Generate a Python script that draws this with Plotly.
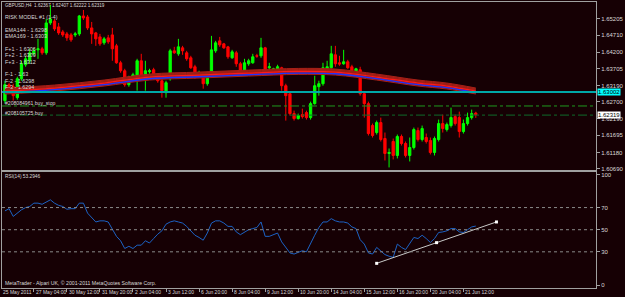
import plotly.graph_objects as go

# ---------------- data ----------------
bar_index = list(range(115))

open_p = [1.6274, 1.6322, 1.6316, 1.6283, 1.6340, 1.6382, 1.6394, 1.6415, 1.6427, 1.6430,
          1.6418, 1.6508, 1.6514, 1.6496, 1.6481, 1.6475, 1.6472, 1.6472, 1.6475, 1.6529,
          1.6526, 1.6493, 1.6478, 1.6466, 1.6448, 1.6463, 1.6472, 1.6439, 1.6388, 1.6364,
          1.6322, 1.6343, 1.6334, 1.6394, 1.6340, 1.6361, 1.6367, 1.6343, 1.6334, 1.6298,
          1.6340, 1.6424, 1.6415, 1.6433, 1.6418, 1.6403, 1.6376, 1.6355, 1.6352, 1.6325,
          1.6352, 1.6424, 1.6454, 1.6445, 1.6436, 1.6403, 1.6418, 1.6385, 1.6361, 1.6385,
          1.6388, 1.6409, 1.6409, 1.6433, 1.6373, 1.6361, 1.6367, 1.6373, 1.6319, 1.6295,
          1.6235, 1.6220, 1.6232, 1.6238, 1.6223, 1.6265, 1.6316, 1.6325, 1.6370, 1.6373,
          1.6412, 1.6388, 1.6385, 1.6391, 1.6376, 1.6361, 1.6367, 1.6295, 1.6265, 1.6199,
          1.6178, 1.6208, 1.6160, 1.6115, 1.6151, 1.6109, 1.6166, 1.6145, 1.6109, 1.6133,
          1.6184, 1.6157, 1.6163, 1.6154, 1.6118, 1.6157, 1.6205, 1.6187, 1.6199, 1.6226,
          1.6223, 1.6181, 1.6205, 1.6223, 1.62367]

high_p = [1.6334, 1.6328, 1.6325, 1.6346, 1.6394, 1.6409, 1.6430, 1.6433, 1.6460, 1.6436,
          1.6520, 1.6562, 1.6520, 1.6508, 1.6487, 1.6481, 1.6478, 1.6481, 1.6532, 1.6547,
          1.6532, 1.6511, 1.6481, 1.6475, 1.6466, 1.6472, 1.6493, 1.6445, 1.6394, 1.6370,
          1.6349, 1.6358, 1.6400, 1.6415, 1.6394, 1.6370, 1.6373, 1.6349, 1.6340, 1.6334,
          1.6430, 1.6436, 1.6460, 1.6439, 1.6424, 1.6409, 1.6382, 1.6364, 1.6358, 1.6361,
          1.6469, 1.6454, 1.6466, 1.6448, 1.6439, 1.6427, 1.6424, 1.6391, 1.6400, 1.6400,
          1.6415, 1.6415, 1.6463, 1.6436, 1.6388, 1.6373, 1.6382, 1.6376, 1.6325, 1.6301,
          1.6244, 1.6235, 1.6250, 1.6244, 1.6271, 1.6349, 1.6334, 1.6388, 1.6394, 1.6439,
          1.6439, 1.6409, 1.6427, 1.6397, 1.6382, 1.6373, 1.6376, 1.6301, 1.6271, 1.6205,
          1.6214, 1.6223, 1.6178, 1.6130, 1.6160, 1.6172, 1.6172, 1.6151, 1.6163, 1.6193,
          1.6193, 1.6199, 1.6175, 1.6163, 1.6166, 1.6217, 1.6232, 1.6208, 1.6253, 1.6232,
          1.6241, 1.6217, 1.6238, 1.6247, 1.62407]

low_p = [1.6265, 1.6304, 1.6274, 1.6277, 1.6334, 1.6376, 1.6385, 1.6409, 1.6400, 1.6412,
         1.6412, 1.6502, 1.6484, 1.6472, 1.6466, 1.6454, 1.6451, 1.6466, 1.6469, 1.6517,
         1.6487, 1.6445, 1.6439, 1.6439, 1.6442, 1.6445, 1.6394, 1.6385, 1.6358, 1.6316,
         1.6316, 1.6337, 1.6304, 1.6334, 1.6304, 1.6355, 1.6337, 1.6328, 1.6283, 1.6283,
         1.6334, 1.6415, 1.6409, 1.6412, 1.6394, 1.6370, 1.6340, 1.6349, 1.6310, 1.6319,
         1.6346, 1.6418, 1.6436, 1.6430, 1.6400, 1.6400, 1.6376, 1.6358, 1.6355, 1.6379,
         1.6385, 1.6403, 1.6403, 1.6358, 1.6358, 1.6358, 1.6364, 1.6304, 1.6214, 1.6229,
         1.6214, 1.6217, 1.6220, 1.6217, 1.6217, 1.6262, 1.6289, 1.6319, 1.6367, 1.6370,
         1.6376, 1.6379, 1.6382, 1.6370, 1.6361, 1.6358, 1.6289, 1.6223, 1.6169, 1.6163,
         1.6172, 1.6151, 1.6094, 1.6073, 1.6097, 1.6100, 1.6139, 1.6103, 1.6091, 1.6127,
         1.6151, 1.6151, 1.6145, 1.6112, 1.6109, 1.6151, 1.6178, 1.6181, 1.6193, 1.6199,
         1.6163, 1.6175, 1.6199, 1.6217, 1.62222]

close_p = [1.6322, 1.6310, 1.6289, 1.6340, 1.6385, 1.6400, 1.6418, 1.6424, 1.6430, 1.6418,
           1.6508, 1.6520, 1.6490, 1.6478, 1.6472, 1.6463, 1.6457, 1.6475, 1.6529, 1.6523,
           1.6493, 1.6475, 1.6460, 1.6445, 1.6460, 1.6451, 1.6430, 1.6388, 1.6364, 1.6322,
           1.6343, 1.6352, 1.6394, 1.6340, 1.6364, 1.6364, 1.6343, 1.6334, 1.6304, 1.6328,
           1.6424, 1.6418, 1.6436, 1.6424, 1.6400, 1.6373, 1.6349, 1.6358, 1.6325, 1.6355,
           1.6427, 1.6448, 1.6442, 1.6433, 1.6406, 1.6421, 1.6385, 1.6364, 1.6388, 1.6394,
           1.6406, 1.6408, 1.6433, 1.6364, 1.6376, 1.6370, 1.6376, 1.6319, 1.6289, 1.6235,
           1.6220, 1.6229, 1.6226, 1.6223, 1.6265, 1.6319, 1.6325, 1.6373, 1.6376, 1.6415,
           1.6385, 1.6384, 1.6391, 1.6373, 1.6364, 1.6370, 1.6295, 1.6265, 1.6175, 1.6169,
           1.6208, 1.6157, 1.6115, 1.6118, 1.6109, 1.6166, 1.6145, 1.6109, 1.6133, 1.6187,
           1.6157, 1.6190, 1.6151, 1.6118, 1.6160, 1.6205, 1.6190, 1.6202, 1.6223, 1.6205,
           1.6181, 1.6205, 1.6223, 1.6235, 1.62319]

# EMA band read at sample bars
ema_bars = [0, 12, 24, 35, 47, 59, 71, 80, 90, 100, 107, 114]
ema144 = [1.6298, 1.6307, 1.6322, 1.6340, 1.6346, 1.6352, 1.6357, 1.6355, 1.6340, 1.6322, 1.6313, 1.6298]
ema169_offset = 0.0005
band_offsets = [-0.0004, 0.0, 0.0002, 0.0008, 0.0011, 0.0014]

rsi = [67, 69, 62, 65, 68, 70, 71, 74, 74, 73,
       75, 77, 74, 72, 71, 68.5, 69, 69, 74, 74,
       65, 61, 57, 58, 58, 57, 51, 44, 40, 33,
       35, 33, 36, 36, 40, 38, 42, 46, 49, 55,
       57, 58, 57, 56, 53, 49, 45, 43, 40.5, 47,
       56, 58, 58, 56, 53, 53, 48, 45.5, 47.5, 50,
       51, 52, 57, 44, 44, 45.5, 47, 39, 34.5, 29,
       28, 29.5, 31, 30, 38, 45, 52, 57, 57, 60,
       58, 57, 57, 56, 52.5, 51, 41, 37, 29, 28,
       34, 31, 27.5, 26, 25, 37, 34, 32, 38, 43,
       42, 45, 42, 38.5, 42, 47.5, 48, 49, 51, 51,
       48, 47.5, 50, 52.5, 53.2946]

trend_bars = [90, 104.5, 119]
trend_rsi = [19.6, 38.3, 57.0]

cyan_level = 1.6300
buy_stop_level = 1.6258
buy_level = 1.62305
current_price = 1.62319

price_ticks = [1.65205, 1.64710, 1.64200, 1.63705, 1.63190, 1.62700, 1.62190, 1.61695, 1.61180, 1.60690]
price_tick_text = ["1.65205", "1.64710", "1.64200", "1.63705", "1.63190", "1.62700", "1.62190",
                   "1.61695", "1.61180", "1.60690"]
rsi_ticks = [0, 30, 50, 70, 100]
rsi_levels = [30, 50, 70]

time_tick_bars = [-1, 7, 15, 23, 31, 39, 47, 55, 63, 71, 79, 87, 95, 103, 111]
time_labels = ["25 May 2011", "27 May 04:00", "30 May 12:00", "31 May 20:00", "2 Jun 04:00",
               "3 Jun 12:00", "6 Jun 20:00", "8 Jun 04:00", "9 Jun 12:00", "10 Jun 20:00",
               "14 Jun 04:00", "15 Jun 12:00", "16 Jun 20:00", "20 Jun 04:00", "21 Jun 12:00"]

info_lines = [
    ("GBPUSD,H4  1.62367 1.62407 1.62222 1.62319", 5, 4.6),
    ("RISK MODEL #1 (1-4)", 16, 5.3),
    ("EMA144 - 1.6298", 29, 5.4),
    ("EMA169 - 1.6303", 35.5, 5.4),
    ("F+1 - 1.6306", 48, 5.4),
    ("F+2 - 1.6309", 54.5, 5.4),
    ("F+3 - 1.6312", 61, 5.4),
    ("F-1 - 1.63", 73.5, 5.4),
    ("F-2 - 1.6298", 80, 5.4),
    ("F-3 - 1.6294", 86.5, 5.4),
    ("#208084961 buy_stop", 102.5, 5.1),
    ("#208105725 buy", 112, 5.1),
    ("RSI(14) 53.2946", 176.5, 4.8),
    ("MetaTrader - Alpari UK, © 2001-2011 MetaQuotes Software Corp.", 283, 5.2),
]

# ---------------- style ----------------
BG = "#160004"
FRAME = "#a0a0a0"
TXT = "#d8d8d8"
FONT = "Liberation Sans"
W, H = 625, 297
ML, MR, MT, MB = 2, 19, 1, 9
PH = H - MT - MB
X_RANGE = [-0.714, 143.1]


def py(pix):
    return (H - MB - pix) / PH


fig = go.Figure()

fig.add_trace(go.Candlestick(
    x=bar_index, open=open_p, high=high_p, low=low_p, close=close_p,
    increasing=dict(line=dict(color="#00ff00", width=1), fillcolor="#00ff00"),
    decreasing=dict(line=dict(color="#ff0000", width=1), fillcolor="#ff0000"),
    whiskerwidth=0, xaxis="x", yaxis="y", hoverinfo="skip"))

lower = [e + band_offsets[0] for e in ema144]
upper = [e + band_offsets[-1] for e in ema144]
fig.add_trace(go.Scatter(x=ema_bars, y=lower, mode="lines", line=dict(width=0, shape="spline"),
                         xaxis="x", yaxis="y", hoverinfo="skip"))
fig.add_trace(go.Scatter(x=ema_bars, y=upper, mode="lines", line=dict(width=0, shape="spline"),
                         fill="tonexty", fillcolor="#7a1810", xaxis="x", yaxis="y", hoverinfo="skip"))
for off in band_offsets:
    fig.add_trace(go.Scatter(x=ema_bars, y=[e + off for e in ema144], mode="lines",
                             line=dict(color="#a82018", width=1, shape="spline"),
                             xaxis="x", yaxis="y", hoverinfo="skip"))
fig.add_trace(go.Scatter(x=ema_bars, y=[e + ema169_offset for e in ema144], mode="lines",
                         line=dict(color="#ff1a1a", width=1.2, shape="spline"),
                         xaxis="x", yaxis="y", hoverinfo="skip"))
fig.add_trace(go.Scatter(x=ema_bars, y=ema144, mode="lines",
                         line=dict(color="#2034ff", width=1.3, shape="spline"),
                         xaxis="x", yaxis="y", hoverinfo="skip"))

fig.add_trace(go.Scatter(x=bar_index, y=rsi, mode="lines", line=dict(color="#1c62c4", width=1),
                         xaxis="x2", yaxis="y2", hoverinfo="skip"))
fig.add_trace(go.Scatter(x=trend_bars, y=trend_rsi, mode="lines+markers",
                         line=dict(color="#c8c8c8", width=1),
                         marker=dict(symbol="square", size=3, color="#ffffff"),
                         xaxis="x2", yaxis="y2", hoverinfo="skip"))

shapes = [
    dict(type="line", xref="paper", x0=0, x1=1, yref="y", y0=cyan_level, y1=cyan_level,
         line=dict(color="#00a8a8", width=2)),
    dict(type="line", xref="paper", x0=0, x1=1, yref="y", y0=buy_stop_level, y1=buy_stop_level,
         line=dict(color="#1f9a1f", width=1, dash="dashdot")),
    dict(type="line", xref="paper", x0=0, x1=1, yref="y", y0=buy_level, y1=buy_level,
         line=dict(color="#0f6a2a", width=1, dash="dashdot")),
]
for lv in rsi_levels:
    shapes.append(dict(type="line", xref="paper", x0=0, x1=1, yref="y2", y0=lv, y1=lv,
                       line=dict(color="#8a8a8a", width=1, dash="dot")))

annotations = []
for text, ypix, fs in info_lines:
    annotations.append(dict(text=text, xref="paper", yref="paper", x=0, y=py(ypix),
                            xanchor="left", yanchor="middle", xshift=1, showarrow=False,
                            font=dict(family=FONT, size=fs, color=TXT)))
for b, lab in zip(time_tick_bars, time_labels):
    annotations.append(dict(text=lab, xref="paper", yref="paper",
                            x=(b - X_RANGE[0]) / (X_RANGE[1] - X_RANGE[0]), y=py(292.5),
                            xanchor="left", yanchor="middle", xshift=0, showarrow=False,
                            font=dict(family=FONT, size=5.0, color=TXT)))
annotations.append(dict(text="1.63002", xref="paper", yref="y", x=1, y=cyan_level,
                        xanchor="left", yanchor="middle", xshift=1, showarrow=False,
                        bgcolor="#00ffff", borderpad=0,
                        font=dict(family=FONT, size=6.0, color="#000000")))
annotations.append(dict(text="1.62319", xref="paper", yref="y", x=1, y=current_price,
                        xanchor="left", yanchor="middle", xshift=1, showarrow=False,
                        bgcolor="#ffffff", borderpad=0,
                        font=dict(family=FONT, size=6.0, color="#000000")))

axis_common = dict(showgrid=False, zeroline=False, showline=True, mirror=True,
                   linecolor=FRAME, linewidth=1)

fig.update_layout(
    width=W, height=H,
    margin=dict(l=ML, r=MR, t=MT, b=MB),
    paper_bgcolor=BG, plot_bgcolor=BG,
    showlegend=False, hovermode=False,
    boxgap=0.45, boxgroupgap=0,
    xaxis=dict(domain=[0, 1], range=X_RANGE, anchor="y", showticklabels=False,
               ticks="", rangeslider=dict(visible=False), **axis_common),
    yaxis=dict(domain=[py(170), 1], range=[1.6064, 1.6571], side="right", anchor="x",
               tickvals=price_ticks, ticktext=price_tick_text, ticks="outside", ticklen=3,
               tickcolor=FRAME, tickfont=dict(family=FONT, size=6.0, color=TXT), **axis_common),
    xaxis2=dict(domain=[0, 1], range=X_RANGE, anchor="y2", matches="x",
                tickvals=time_tick_bars, ticks="outside", ticklen=3, tickcolor=FRAME,
                showticklabels=False, **axis_common),
    yaxis2=dict(domain=[0, py(171.5)], range=[-2.7, 102.25], side="right", anchor="x2",
                tickvals=rsi_ticks, ticks="outside", ticklen=3, tickcolor=FRAME,
                tickfont=dict(family=FONT, size=6.0, color=TXT), **axis_common),
    shapes=shapes, annotations=annotations,
)

fig.write_html("out.html")
